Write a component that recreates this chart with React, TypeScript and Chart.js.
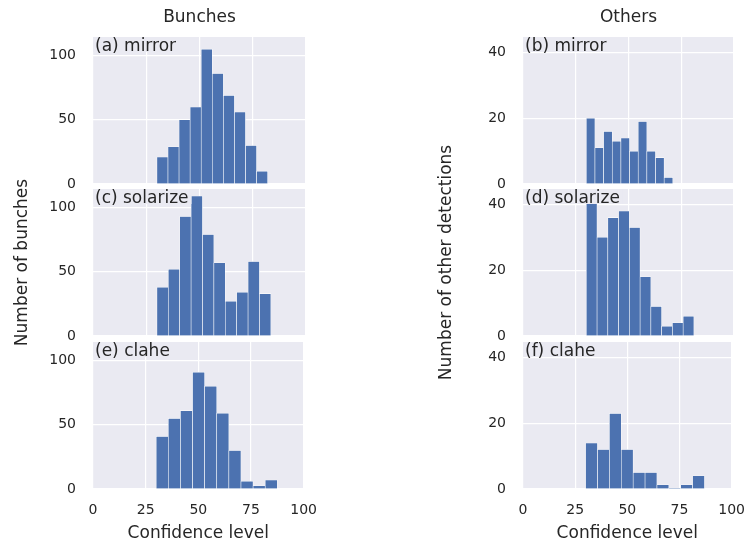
import React, { useEffect, useRef } from "react";
import { Chart, registerables } from "chart.js";

Chart.register(...registerables);
Chart.defaults.font.family = '"DejaVu Sans", sans-serif';

// ---- data ----
const xTicks = [0, 25, 50, 75, 100];
const bunchYTicks = [0, 50, 100];
const otherYTicks = [0, 20, 40];
const bunchYMax = 114.5;
const otherYMax = 44.7;

const columnTitles = ["Bunches", "Others"];
const yTitles = ["Number of bunches", "Number of other detections"];
const xTitle = "Confidence level";
const panelLabels = ["(a) mirror", "(b) mirror", "(c) solarize", "(d) solarize", "(e) clahe", "(f) clahe"];

// histogram bin range [first edge, last edge] and bin counts (10 bins each)
const mirrorBunchRange = [30, 82];
const mirrorBunchCounts = [21, 29, 50, 60, 105, 86, 69, 56, 30, 10];
const solarizeBunchRange = [30, 83.5];
const solarizeBunchCounts = [38, 52, 93, 109, 79, 57, 27, 34, 58, 33];
const claheBunchRange = [30, 87.5];
const claheBunchCounts = [41, 55, 61, 91, 80, 59, 30, 6, 2.5, 7];

const mirrorOtherRange = [30, 71];
const mirrorOtherCounts = [20, 11, 16, 13, 14, 10, 19, 10, 8, 2];
const solarizeOtherRange = [30, 81];
const solarizeOtherCounts = [43, 30, 36, 38, 33, 18, 9, 3, 4, 6];
const claheOtherRange = [30, 87];
const claheOtherCounts = [14, 12, 23, 12, 5, 5, 1.3, 0.25, 1.3, 4];

// ---- styling / layout ----
const BG = "#EAEAF2";
const BAR = "#4C72B0";
const TXT = "#262626";
const PANEL_H = 147;
const ROW_TOPS = [37, 189, 342];
const COL_LEFT = [0, 424]; // canvas left
const Y_W = [80, 86]; // y-axis box width
const PLOT_RIGHT = [306, 734];
const PAD_L = 13;
const PAD_R = 16;
const PAD_V = 14;
const PAD_MID = 60;
const X_AXIS_H = 55;

const decoPlugin = {
  id: "panelDeco",
  beforeDraw(chart: any) {
    const { ctx, chartArea: a } = chart;
    ctx.save();
    ctx.fillStyle = BG;
    ctx.fillRect(a.left, a.top, a.right - a.left, a.bottom - a.top);
    ctx.restore();
  },
  afterDatasetsDraw(chart: any, _a: any, opts: any) {
    const { ctx, chartArea: a } = chart;
    ctx.save();
    ctx.font = '17px "DejaVu Sans"';
    const w = ctx.measureText(opts.label).width;
    ctx.fillStyle = BG;
    ctx.fillRect(a.left, a.top, w + 5, 15);
    ctx.fillStyle = TXT;
    ctx.textAlign = "left";
    ctx.textBaseline = "alphabetic";
    ctx.fillText(opts.label, a.left + 2, a.top + 14);
    if (opts.title) {
      ctx.textAlign = "center";
      ctx.textBaseline = "middle";
      ctx.fillText(opts.title, (a.left + a.right) / 2, a.top - 19);
    }
    if (opts.yTitle) {
      const ys = chart.scales.y;
      ctx.translate(ys.left + 10, (a.top + a.bottom) / 2);
      ctx.rotate(-Math.PI / 2);
      ctx.textAlign = "center";
      ctx.textBaseline = "middle";
      ctx.fillText(opts.yTitle, 0, 0);
    }
    ctx.restore();
  },
};

type PanelProps = {
  row: number;
  col: number;
  counts: number[];
  range: number[];
};

function Panel({ row, col, counts, range }: PanelProps) {
  const ref = useRef<HTMLCanvasElement>(null);
  const isBottom = row === 2;
  const padTop = row === 0 ? ROW_TOPS[0] : row === 1 ? PAD_MID : PAD_V;
  const padBottom = isBottom ? 0 : row === 1 ? PAD_MID : PAD_V;
  const canvasTop = ROW_TOPS[row] - padTop;
  const canvasLeft = COL_LEFT[col];
  const width = PLOT_RIGHT[col] - canvasLeft + PAD_R;
  const height = padTop + PANEL_H + (isBottom ? X_AXIS_H : 0) + padBottom;

  useEffect(() => {
    if (!ref.current) return;
    const [start, end] = range;
    const bw = (end - start) / counts.length;
    const data = counts.map((v, i) => ({ x: start + (i + 0.5) * bw, y: v }));
    const yTicks = col === 0 ? bunchYTicks : otherYTicks;
    const yMax = col === 0 ? bunchYMax : otherYMax;
    const chart = new Chart(ref.current, {
      type: "bar",
      data: {
        datasets: [
          {
            data: data as any,
            backgroundColor: BAR,
            borderColor: "#FFFFFF",
            borderWidth: 0.6,
            categoryPercentage: 1,
            barPercentage: 1,
            grouped: false,
          } as any,
        ],
      },
      options: {
        responsive: false,
        animation: false,
        events: [],
        layout: { padding: { left: PAD_L, right: PAD_R, top: padTop, bottom: padBottom } },
        plugins: {
          legend: { display: false },
          tooltip: { enabled: false },
          panelDeco: {
            label: panelLabels[row * 2 + col],
            title: row === 0 ? columnTitles[col] : "",
            yTitle: row === 1 ? yTitles[col] : "",
          },
        } as any,
        scales: {
          x: {
            type: "linear",
            min: 0,
            max: 100,
            offset: false,
            afterBuildTicks: (s: any) => {
              s.ticks = xTicks.map((v) => ({ value: v }));
            },
            afterFit: (s: any) => {
              s.height = isBottom ? X_AXIS_H : 0;
            },
            grid: {
              color: "#FFFFFF",
              lineWidth: 1.2,
              drawTicks: true,
              tickLength: 8,
              tickColor: "rgba(0,0,0,0)",
              offset: false,
            },
            border: { display: false },
            ticks: {
              display: isBottom,
              padding: 5,
              color: TXT,
              font: { size: 14 },
              maxRotation: 0,
              autoSkip: false,
            },
            title: {
              display: isBottom,
              text: xTitle,
              color: TXT,
              font: { size: 17 },
              padding: 0,
            },
          },
          y: {
            type: "linear",
            min: 0,
            max: yMax,
            afterBuildTicks: (s: any) => {
              s.ticks = yTicks.map((v) => ({ value: v }));
            },
            afterFit: (s: any) => {
              s.width = Y_W[col];
            },
            grid: {
              color: "#FFFFFF",
              lineWidth: 1.2,
              drawTicks: true,
              tickLength: 14,
              tickColor: "rgba(0,0,0,0)",
            },
            border: { display: false },
            ticks: { padding: 3, color: TXT, font: { size: 14 } },
            title: { display: false },
          },
        },
      } as any,
      plugins: [decoPlugin as any],
    });
    return () => chart.destroy();
  }, []);

  return (
    <canvas
      ref={ref}
      width={width}
      height={height}
      style={{ position: "absolute", left: canvasLeft, top: canvasTop, width, height, display: "block" }}
    />
  );
}

export default function App() {
  const panels = [
    { row: 0, col: 0, counts: mirrorBunchCounts, range: mirrorBunchRange },
    { row: 0, col: 1, counts: mirrorOtherCounts, range: mirrorOtherRange },
    { row: 1, col: 0, counts: solarizeBunchCounts, range: solarizeBunchRange },
    { row: 1, col: 1, counts: solarizeOtherCounts, range: solarizeOtherRange },
    { row: 2, col: 0, counts: claheBunchCounts, range: claheBunchRange },
    { row: 2, col: 1, counts: claheOtherCounts, range: claheOtherRange },
  ];
  return (
    <div style={{ position: "absolute", left: 0, top: 0, width: 750, height: 545, background: "#FFFFFF" }}>
      {panels.map((p) => (
        <Panel key={`${p.row}-${p.col}`} {...p} />
      ))}
    </div>
  );
}
